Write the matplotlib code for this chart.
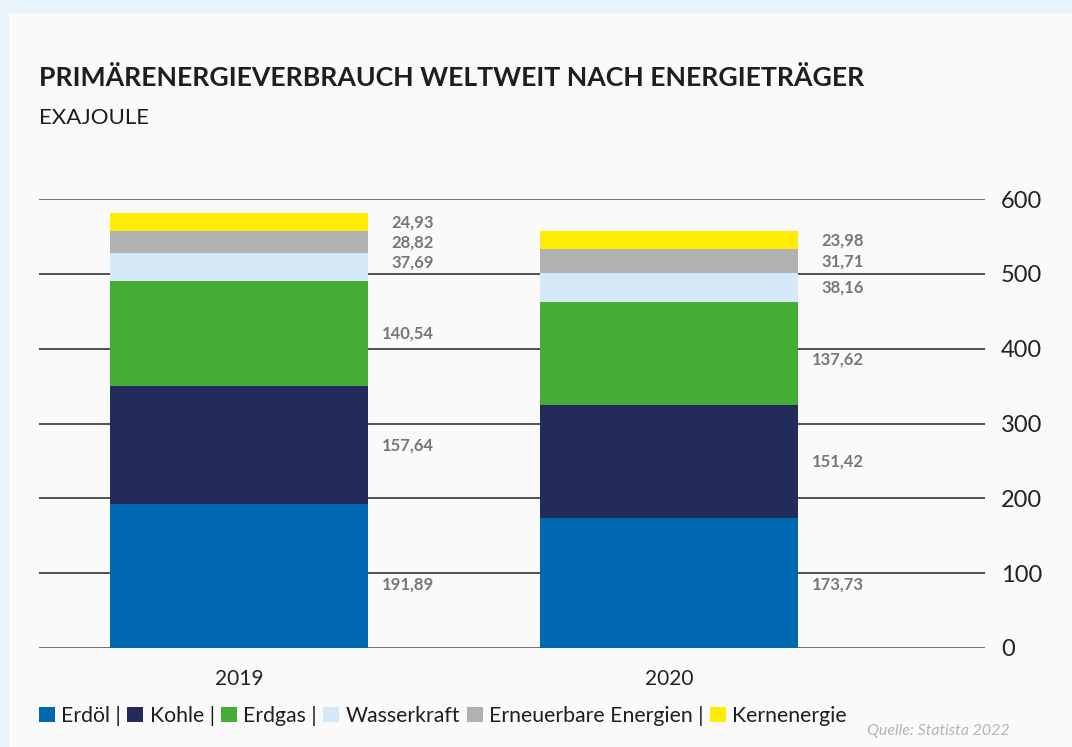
import numpy as np
import matplotlib.pyplot as plt
from matplotlib.patches import Rectangle

plt.rcParams['font.family'] = ['Lato', 'DejaVu Sans']

# data
years = ['2019', '2020']
sources = ['Erdöl', 'Kohle', 'Erdgas', 'Wasserkraft', 'Erneuerbare Energien', 'Kernenergie']
erdoel = [191.89, 173.73]
kohle = [157.64, 151.42]
erdgas = [140.54, 137.62]
wasserkraft = [37.69, 38.16]
erneuerbare = [28.82, 31.71]
kernenergie = [24.93, 23.98]
yticks = [0, 100, 200, 300, 400, 500, 600]
legend_labels = ['Erdöl |', 'Kohle |', 'Erdgas |', 'Wasserkraft', 'Erneuerbare Energien |', 'Kernenergie']

colors = ['#0068b1', '#232b5a', '#45ad35', '#d4e8f8', '#b1b1b1', '#ffed00']
series = [erdoel, kohle, erdgas, wasserkraft, erneuerbare, kernenergie]

fig = plt.figure(figsize=(10.72, 7.47), dpi=100)
fig.set_facecolor('#eaf4fd')
fig.patches.append(Rectangle((9/1072, 0), 1, 1 - 13/747, transform=fig.transFigure,
                             facecolor='#fafafa', edgecolor='none', zorder=-5))

# axes: x 39..985 px, y 199..648 px
ax = fig.add_axes([39/1072, 1 - 648/747, (985-39)/1072, (648-199)/747])
ax.set_facecolor('none')
ax.set_zorder(2)

def label_y(c):
    # keep value labels off the grid lines
    for t in yticks:
        if abs(c - t) < 14:
            return t - 15 if c < t else t + 15
    return c

x = np.arange(len(years))
bottom = np.zeros(len(years))
for vals, col in zip(series, colors):
    vals = np.array(vals)
    ax.bar(x, vals, bottom=bottom, width=0.6, color=col, zorder=3)
    for xi, b, v in zip(x, bottom, vals):
        ax.text(xi + 0.3 + 0.153, label_y(b + v/2), ('%.2f' % v).replace('.', ','),
                ha='right', va='center', fontsize=12, fontweight='bold',
                color='#777777', zorder=4)
    bottom += vals

ax.set_xlim(-0.465, 1.735)
ax.set_ylim(0, 600)
ax.set_yticks(yticks)
for t in yticks:
    c = '#666666' if t in (0, 600) else '#222222'
    ax.axhline(t, color=c, lw=1.3 if t in (0, 600) else 1.1, zorder=1)

for s in ax.spines.values():
    s.set_visible(False)
ax.yaxis.tick_right()
ax.tick_params(axis='y', length=0, pad=11.5, labelsize=17, labelcolor='#222222')
ax.tick_params(axis='x', length=0, pad=15, labelsize=15, labelcolor='#222222')
ax.set_xticks(x)
ax.set_xticklabels(years)
for lbl in ax.get_yticklabels():
    lbl.set_horizontalalignment('left')

fig.text(39/1072, 1 - 78/747, 'PRIMÄRENERGIEVERBRAUCH WELTWEIT NACH ENERGIETRÄGER',
         fontsize=19.15, fontweight='bold', color='#1e1e1e', va='center')
fig.text(39/1072, 1 - 118/747, 'EXAJOULE', fontsize=16, color='#1e1e1e', va='center')

handles = [Rectangle((0, 0), 1, 1, facecolor=c, edgecolor='none') for c in colors]
fig.legend(handles, legend_labels, loc='center left', bbox_to_anchor=(39/1072, 1 - 716/747),
           ncol=6, frameon=False, fontsize=15.3, handlelength=0.75, handleheight=0.75,
           handletextpad=0.3, columnspacing=0.3, borderpad=0, borderaxespad=0,
           labelcolor='#1e1e1e')

fig.text(1010/1072, 1 - 731/747, 'Quelle: Statista 2022', fontsize=11.5, style='italic',
         color='#b5b5b5', ha='right', va='center')

fig.savefig('out.png', dpi=100, facecolor=fig.get_facecolor())
